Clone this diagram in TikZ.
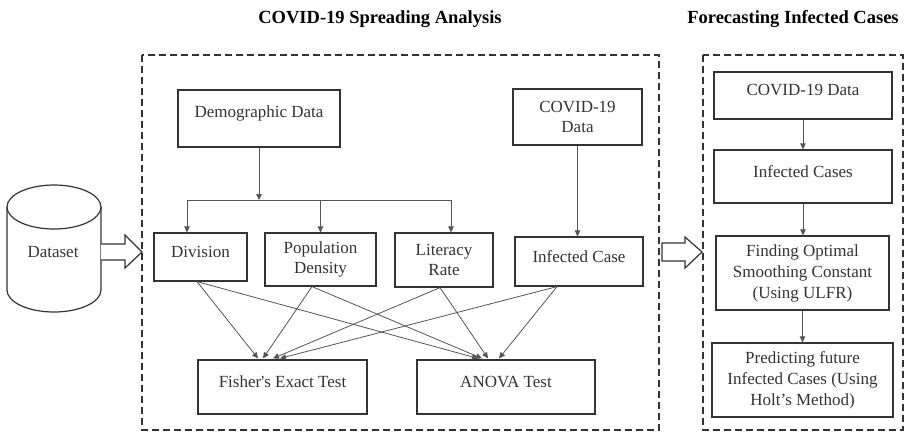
\documentclass[tikz,border=0pt]{standalone}
\usepackage{fontspec}
\setmainfont{Liberation Serif}
\usetikzlibrary{calc,arrows.meta}
\definecolor{ink}{HTML}{333333}
\definecolor{wire}{HTML}{555555}
\newcommand{\upt}[1]{\raisebox{5pt}[\height][\depth]{#1}}
\tikzset{
  box/.style={draw=ink, line width=1.2pt, rectangle, inner sep=2pt, align=center, text=ink,
              font=\fontsize{17}{20.5}\selectfont},
  conn/.style={draw=wire, line width=0.8pt, -{Triangle[length=6pt,width=5.5pt]}},
  plain/.style={draw=wire, line width=0.8pt},
  frame/.style={draw=ink, line width=1.2pt, dash pattern=on 7pt off 4pt},
  ttl/.style={font=\fontsize{18.5}{22}\selectfont\bfseries, text=black, anchor=base},
  hollow/.style={draw=ink, line width=1.2pt, fill=white},
}
\begin{document}
\begin{tikzpicture}[x=1pt,y=-1pt]
\useasboundingbox (0,0) rectangle (913,432);

% titles
\node[ttl] (t1) at (380,23) {COVID-19 Spreading Analysis};
\node[ttl] (t2) at (793,23) {Forecasting Infected Cases};

% frames
\draw[frame] (142,55) rectangle (659,430);
\draw[frame] (703,55) rectangle (903,430);

% cylinder
\draw[ink, line width=1.2pt] (7,207) -- (7,290) arc[start angle=180, end angle=360, x radius=47pt, y radius=22pt] -- (101,207);
\draw[ink, line width=1.2pt, fill=white] (54,207) ellipse [x radius=47pt, y radius=22pt];
\node[text=ink, font=\fontsize{17}{20}\selectfont] (ds) at (53,252) {Dataset};

% hollow arrows
\draw[hollow] (101,244) -- (125,244) -- (125,235) -- (142,252) -- (125,268) -- (125,260) -- (101,260);
\draw[hollow] (662,243) -- (685,243) -- (685,237) -- (702,252) -- (685,268) -- (685,261) -- (662,261) -- cycle;

% left boxes
\node[box, minimum width=162, minimum height=57] (dem) at (259,118.5) {\upt{Demographic Data}};
\node[box, minimum width=129, minimum height=56] (cov) at (577.5,117) {COVID-19\\Data};
\node[box, minimum width=93, minimum height=48] (div) at (200.5,257) {\upt{Division}};
\node[box, minimum width=111, minimum height=53] (pop) at (320.5,259.5) {Population\\Density};
\node[box, minimum width=98, minimum height=54] (lit) at (444,260) {Literacy\\Rate};
\node[box, minimum width=128, minimum height=49] (inf) at (579,261.5) {\upt{Infected Case}};
\node[box, minimum width=169, minimum height=54] (fis) at (282.5,387) {\upt{Fisher\textquotesingle s Exact Test}};
\node[box, minimum width=178, minimum height=54] (ano) at (506,387) {\upt{ANOVA Test}};

% right boxes
\node[box, minimum width=178, minimum height=47] (rc) at (803,95.5) {\raisebox{6pt}[\height][\depth]{COVID-19 Data}};
\node[box, minimum width=178, minimum height=53] (ric) at (803,176.5) {\upt{Infected Cases}};
\node[box, minimum width=173, minimum height=74, font=\fontsize{17}{21}\selectfont] (rf) at (802.5,273) {Finding Optimal\\Smoothing Constant\\(Using ULFR)};
\node[box, minimum width=181, minimum height=74, font=\fontsize{17}{21}\selectfont] (rp) at (802.5,380) {Predicting future\\Infected Cases (Using\\Holt’s Method)};

% demographic fan-out
\coordinate (jl) at (187,200);
\coordinate (jr) at (451,200);
\draw[conn] (dem.south) -- (dem.south |- jl);
\draw[plain] (jl) -- (jr);
\draw[conn] (jl) -- (jl |- div.north);
\draw[conn] (pop.north |- jl) -- (pop.north);
\draw[conn] (jr) -- (jr |- lit.north);
\draw[conn] (cov.south) -- (cov.south |- inf.north);

% cross connections
\draw[conn] ($(div.south)+(-3.5,0)$) -- ($(fis.north)+(-24.5,-1)$);
\draw[conn] ($(div.south)+(-3.5,0)$) -- ($(ano.north)+(-28,-1)$);
\draw[conn] ($(pop.south)+(-8.5,0)$) -- ($(fis.north)+(-19.5,-1)$);
\draw[conn] ($(pop.south)+(-8.5,0)$) -- ($(ano.north)+(-24,-1)$);
\draw[conn] ($(lit.south)+(-4,0)$) -- ($(fis.north)+(-9.5,-1)$);
\draw[conn] ($(lit.south)+(-4,0)$) -- ($(ano.north)+(-18,-1)$);
\draw[conn] ($(inf.south)+(-22,0)$) -- ($(fis.north)+(-2.5,-1)$);
\draw[conn] ($(inf.south)+(-22,0)$) -- ($(ano.north)+(-7,-1)$);

% right column
\draw[conn] (rc.south) -- (rc.south |- ric.north);
\draw[conn] (ric.south) -- (ric.south |- rf.north);
\draw[conn] (rf.south) -- (rf.south |- rp.north);
\end{tikzpicture}
\end{document}
